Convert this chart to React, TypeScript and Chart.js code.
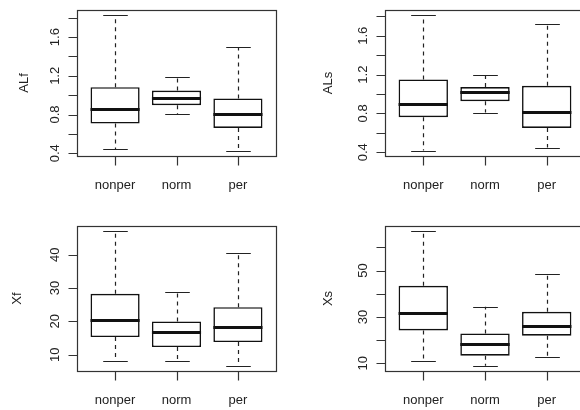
import React, { useEffect, useRef } from "react";
import { Chart, registerables } from "chart.js";

Chart.register(...registerables);

const categories = ["nonper", "norm", "per"];

// ALf panel
const alfLow = [0.441, 0.807, 0.428];
const alfQ1 = [0.707, 0.897, 0.662];
const alfMed = [0.855, 0.969, 0.81];
const alfQ3 = [1.083, 1.048, 0.966];
const alfHigh = [1.824, 1.186, 1.497];

// ALs panel
const alsLow = [0.417, 0.809, 0.448];
const alsQ1 = [0.761, 0.926, 0.651];
const alsMed = [0.892, 1.016, 0.813];
const alsQ3 = [1.15, 1.071, 1.084];
const alsHigh = [1.81, 1.198, 1.724];

// Xf panel
const xfLow = [8.11, 8.11, 6.71];
const xfQ1 = [15.28, 12.29, 13.79];
const xfMed = [20.27, 16.68, 18.37];
const xfQ3 = [28.25, 19.97, 24.26];
const xfHigh = [46.99, 28.94, 40.51];

// Xs panel
const xsLow = [11.0, 9.0, 12.9];
const xsQ1 = [24.2, 13.3, 21.9];
const xsMed = [31.5, 18.2, 26.3];
const xsQ3 = [43.4, 22.9, 32.2];
const xsHigh = [66.9, 34.4, 48.6];

// axis ticks
const alTicks = [0.4, 0.6, 0.8, 1.0, 1.2, 1.4, 1.6, 1.8];
const alLabelValues = [0.4, 0.8, 1.2, 1.6];
const alLabelText = ["0.4", "0.8", "1.2", "1.6"];
const xfTicks = [10, 20, 30, 40];
const xfLabelValues = [10, 20, 30, 40];
const xfLabelText = ["10", "20", "30", "40"];
const xsTicks = [10, 20, 30, 40, 50, 60];
const xsLabelValues = [10, 30, 50];
const xsLabelText = ["10", "30", "50"];

const FONT = '13px "Liberation Sans", Arial, sans-serif';
const INK = "#111";

type Panel = {
  title: string;
  low: number[];
  q1: number[];
  med: number[];
  q3: number[];
  high: number[];
  ticks: number[];
  labelValues: number[];
  labelText: string[];
  left: number;
  top: number;
  width: number;
  height: number;
  padding: { left: number; right: number; top: number; bottom: number };
  titleX: number;
};

function makePlugin(p: Panel) {
  return {
    id: "rbox_" + p.title,
    beforeDraw(chart: any) {
      const { ctx, width, height } = chart;
      ctx.save();
      ctx.fillStyle = "#fff";
      ctx.fillRect(0, 0, width, height);
      ctx.restore();
    },
    beforeDatasetsDraw(chart: any) {
      const { ctx, scales } = chart;
      const x = scales.x;
      const y = scales.y;
      ctx.save();
      ctx.strokeStyle = "#222";
      ctx.lineWidth = 1.2;
      for (let i = 0; i < categories.length; i++) {
        const cx = Math.round(x.getPixelForValue(i + 1)) + 0.5;
        const halfStaple = x.getPixelForValue(1.2) - x.getPixelForValue(1);
        ctx.setLineDash([4, 4]);
        ctx.beginPath();
        ctx.moveTo(cx, y.getPixelForValue(p.q3[i]));
        ctx.lineTo(cx, y.getPixelForValue(p.high[i]));
        ctx.moveTo(cx, y.getPixelForValue(p.q1[i]));
        ctx.lineTo(cx, y.getPixelForValue(p.low[i]));
        ctx.stroke();
        ctx.setLineDash([]);
        ctx.beginPath();
        const yh = Math.round(y.getPixelForValue(p.high[i])) + 0.5;
        const yl = Math.round(y.getPixelForValue(p.low[i])) + 0.5;
        ctx.moveTo(cx - halfStaple, yh);
        ctx.lineTo(cx + halfStaple, yh);
        ctx.moveTo(cx - halfStaple, yl);
        ctx.lineTo(cx + halfStaple, yl);
        ctx.stroke();
      }
      ctx.restore();
    },
    afterDatasetsDraw(chart: any) {
      const { ctx, chartArea: a, scales } = chart;
      const x = scales.x;
      const y = scales.y;
      ctx.save();
      ctx.strokeStyle = INK;
      ctx.lineWidth = 3;
      for (let i = 0; i < categories.length; i++) {
        const x0 = x.getPixelForValue(i + 1 - 0.4);
        const x1 = x.getPixelForValue(i + 1 + 0.4);
        const ym = Math.round(y.getPixelForValue(p.med[i])) + 0.5;
        ctx.beginPath();
        ctx.moveTo(x0, ym);
        ctx.lineTo(x1, ym);
        ctx.stroke();
      }
      ctx.lineWidth = 1.2;
      ctx.strokeStyle = "#333";
      ctx.strokeRect(
        Math.round(a.left) + 0.5,
        Math.round(a.top) + 0.5,
        Math.round(a.right - a.left),
        Math.round(a.bottom - a.top)
      );
      const L = Math.round(a.left) + 0.5;
      ctx.beginPath();
      for (const t of p.ticks) {
        const ty = Math.round(y.getPixelForValue(t)) + 0.5;
        ctx.moveTo(L - 9, ty);
        ctx.lineTo(L, ty);
      }
      ctx.stroke();
      const B = Math.round(a.bottom) + 0.5;
      ctx.beginPath();
      for (let i = 0; i < categories.length; i++) {
        const tx = Math.round(x.getPixelForValue(i + 1)) + 0.5;
        ctx.moveTo(tx, B);
        ctx.lineTo(tx, B + 9);
      }
      ctx.stroke();
      ctx.fillStyle = "#222";
      ctx.font = FONT;
      ctx.textAlign = "center";
      ctx.textBaseline = "alphabetic";
      for (let i = 0; i < categories.length; i++) {
        ctx.fillText(categories[i], x.getPixelForValue(i + 1), a.bottom + 33);
      }
      for (let k = 0; k < p.labelValues.length; k++) {
        const ty = y.getPixelForValue(p.labelValues[k]);
        ctx.save();
        ctx.translate(a.left - 18.5, ty);
        ctx.rotate(-Math.PI / 2);
        ctx.fillText(p.labelText[k], 0, 0);
        ctx.restore();
      }
      ctx.save();
      ctx.translate(p.titleX, (a.top + a.bottom) / 2);
      ctx.rotate(-Math.PI / 2);
      ctx.fillText(p.title, 0, 0);
      ctx.restore();
      ctx.restore();
    },
  };
}

function BoxPanel({ p }: { p: Panel }) {
  const ref = useRef<HTMLCanvasElement | null>(null);
  useEffect(() => {
    if (!ref.current) return;
    const all = [...p.low, ...p.high];
    const lo = Math.min(...all);
    const hi = Math.max(...all);
    const ext = (hi - lo) * 0.04;
    const chart = new Chart(ref.current, {
      type: "bar",
      data: {
        datasets: [
          {
            data: categories.map((_, i) => ({ x: i + 1, y: [p.q1[i], p.q3[i]] })) as any,
            backgroundColor: "#ffffff",
            borderColor: INK,
            borderWidth: 1.6,
            borderSkipped: false,
            barPercentage: 1,
            categoryPercentage: 0.8,
          },
        ],
      },
      options: {
        responsive: false,
        animation: false,
        devicePixelRatio: 1,
        layout: { padding: p.padding },
        plugins: { legend: { display: false }, tooltip: { enabled: false } },
        scales: {
          x: { type: "linear", min: 0.38, max: 3.62, offset: false, display: false },
          y: { type: "linear", min: lo - ext, max: hi + ext, display: false },
        },
      },
      plugins: [makePlugin(p)],
    });
    return () => chart.destroy();
  }, [p]);
  return (
    <div style={{ position: "absolute", left: p.left, top: p.top, width: p.width, height: p.height }}>
      <canvas ref={ref} width={p.width} height={p.height} style={{ width: p.width, height: p.height, display: "block" }} />
    </div>
  );
}

const panels: Panel[] = [
  {
    title: "ALf", low: alfLow, q1: alfQ1, med: alfMed, q3: alfQ3, high: alfHigh,
    ticks: alTicks, labelValues: alLabelValues, labelText: alLabelText,
    left: 0, top: 0, width: 290, height: 205,
    padding: { left: 77, right: 14, top: 10, bottom: 49 }, titleX: 28,
  },
  {
    title: "ALs", low: alsLow, q1: alsQ1, med: alsMed, q3: alsQ3, high: alsHigh,
    ticks: alTicks, labelValues: alLabelValues, labelText: alLabelText,
    left: 290, top: 0, width: 310, height: 205,
    padding: { left: 95, right: 15, top: 10, bottom: 49 }, titleX: 41.5,
  },
  {
    title: "Xf", low: xfLow, q1: xfQ1, med: xfMed, q3: xfQ3, high: xfHigh,
    ticks: xfTicks, labelValues: xfLabelValues, labelText: xfLabelText,
    left: 0, top: 205, width: 290, height: 205,
    padding: { left: 77, right: 14, top: 21, bottom: 39 }, titleX: 21,
  },
  {
    title: "Xs", low: xsLow, q1: xsQ1, med: xsMed, q3: xsQ3, high: xsHigh,
    ticks: xsTicks, labelValues: xsLabelValues, labelText: xsLabelText,
    left: 290, top: 205, width: 310, height: 205,
    padding: { left: 95, right: 15, top: 21, bottom: 39 }, titleX: 41.5,
  },
];

export default function App() {
  return (
    <div style={{ position: "fixed", left: 0, top: 0, width: 580, height: 410, overflow: "hidden", background: "#fff" }}>
      {panels.map((p) => (
        <BoxPanel key={p.title} p={p} />
      ))}
    </div>
  );
}
